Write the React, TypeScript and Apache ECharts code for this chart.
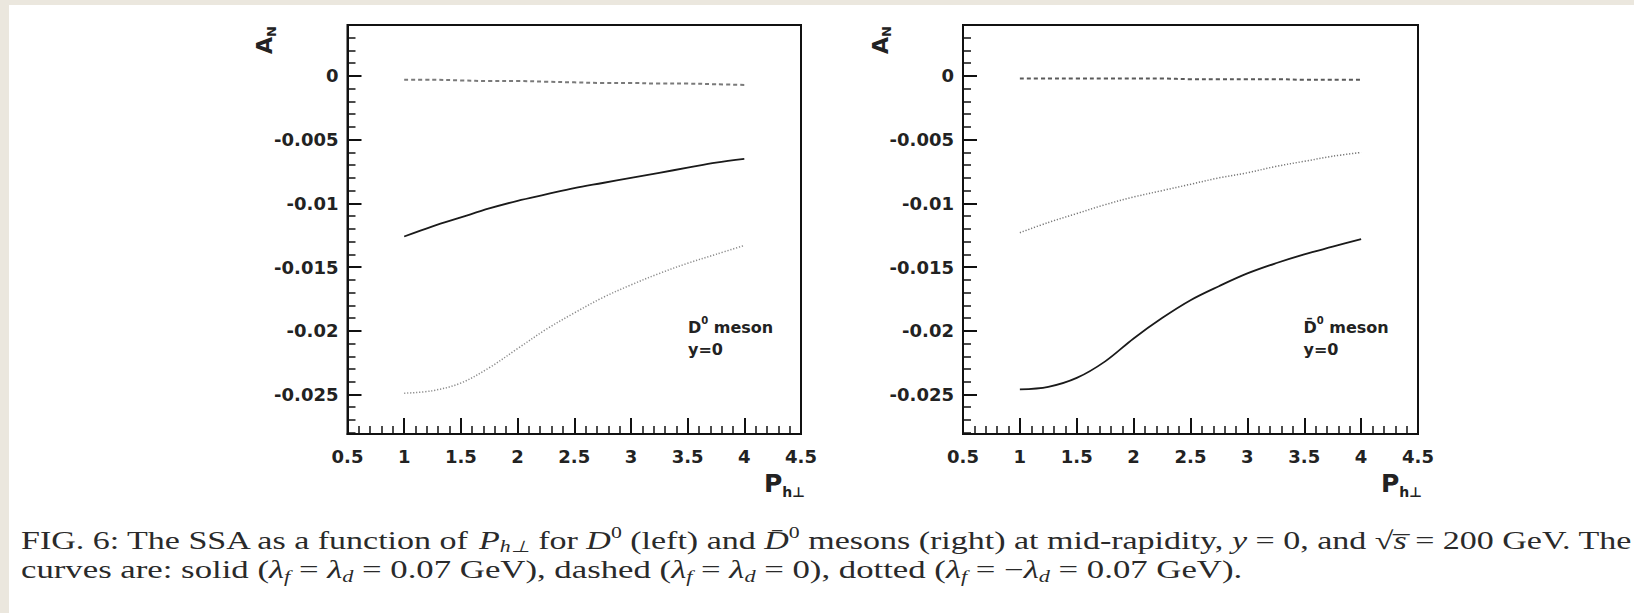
import React, { useEffect, useRef } from 'react';
import * as echarts from 'echarts';

// transverse momentum grid (GeV)
const PT = [1, 1.25, 1.5, 1.75, 2, 2.25, 2.5, 2.75, 3, 3.25, 3.5, 3.75, 4];

// D0 meson (left panel)
const D0_SOLID = [-0.0126, -0.0118, -0.0111, -0.0104, -0.0098, -0.0093, -0.0088, -0.0084, -0.008, -0.0076, -0.0072, -0.0068, -0.0065];
const D0_DASHED = [-0.0003, -0.0003, -0.00035, -0.0004, -0.0004, -0.00045, -0.0005, -0.00055, -0.00055, -0.0006, -0.0006, -0.00065, -0.0007];
const D0_DOTTED = [-0.0249, -0.0247, -0.0241, -0.0229, -0.0214, -0.0199, -0.0186, -0.0174, -0.0164, -0.0155, -0.0147, -0.014, -0.0133];

// anti-D0 meson (right panel)
const D0BAR_SOLID = [-0.0246, -0.0244, -0.0237, -0.0224, -0.0206, -0.019, -0.0176, -0.0165, -0.0155, -0.0147, -0.014, -0.0134, -0.0128];
const D0BAR_DASHED = [-0.0002, -0.0002, -0.0002, -0.0002, -0.0002, -0.0002, -0.00025, -0.00025, -0.00025, -0.00025, -0.0003, -0.0003, -0.0003];
const D0BAR_DOTTED = [-0.0123, -0.0115, -0.0108, -0.0101, -0.0095, -0.009, -0.0085, -0.008, -0.0076, -0.0071, -0.0067, -0.0063, -0.006];

const X_MIN = 0.5;
const X_MAX = 4.5;
const X_STEP = 0.5;
const Y_MIN = -0.0281;
const Y_MAX = 0.004;
const Y_MAJOR = [-0.025, -0.02, -0.015, -0.01, -0.005, 0];
const Y_MINOR = [-0.028, -0.027, -0.026, -0.024, -0.023, -0.022, -0.021, -0.019, -0.018, -0.017, -0.016, -0.014, -0.013, -0.012, -0.011, -0.009, -0.008, -0.007, -0.006, -0.004, -0.003, -0.002, -0.001, 0.001, 0.002, 0.003];

const PANEL_LABELS = ['{b|D}{sup|0}{b| meson}', '{b|D\u0304}{sup|0}{b| meson}'];

const BLACK = '#111';
const SANS = 'DejaVu Sans';
const SERIF = 'Liberation Serif';

function pairs(ys: number[]) {
  return PT.map((x, i) => [x, ys[i]]);
}

export default function App() {
  const ref = useRef<HTMLDivElement>(null);
  useEffect(() => {
    if (!ref.current) return;
    const chart = echarts.init(ref.current, null, { renderer: 'svg' });

    const grids = [
      { left: 347.5, top: 25, width: 453.5, height: 409 },
      { left: 963, top: 25, width: 455, height: 409 },
    ];

    const xAxes = grids.map((_, i) => ({
      gridIndex: i,
      type: 'value',
      position: 'bottom',
      min: X_MIN,
      max: X_MAX,
      interval: X_STEP,
      axisLine: { show: true, onZero: false, lineStyle: { color: BLACK, width: 2 } },
      axisTick: { show: true, inside: true, length: 16, lineStyle: { color: BLACK, width: 2 } },
      minorTick: { show: true, splitNumber: 5, length: 8, lineStyle: { color: BLACK, width: 1.5 } },
      axisLabel: {
        margin: 13,
        fontSize: 18,
        fontWeight: 'bold',
        fontFamily: SANS,
        color: '#222',
        showMinLabel: true,
        showMaxLabel: true,
        formatter: (v: number) => String(v),
      },
      splitLine: { show: false },
      minorSplitLine: { show: false },
    }));

    const yAxes: any[] = [];
    grids.forEach((_, i) => {
      yAxes.push({
        gridIndex: i,
        type: 'value',
        position: 'left',
        offset: 0,
        min: Y_MIN,
        max: Y_MAX,
        axisLine: { show: true, onZero: false, lineStyle: { color: BLACK, width: 2 } },
        axisTick: { show: true, inside: true, length: 14, customValues: Y_MAJOR, lineStyle: { color: BLACK, width: 2 } },
        axisLabel: {
          customValues: Y_MAJOR,
          margin: 9,
          fontSize: 18,
          fontWeight: 'bold',
          fontFamily: SANS,
          color: '#222',
          formatter: (v: number) => String(Number(v.toFixed(3)) === 0 ? 0 : Number(v.toFixed(3))),
        },
        splitLine: { show: false },
      });
      yAxes.push({
        gridIndex: i,
        type: 'value',
        position: 'left',
        offset: 0,
        min: Y_MIN,
        max: Y_MAX,
        axisLine: { show: false, onZero: false },
        axisTick: { show: true, inside: true, length: 8, customValues: Y_MINOR, lineStyle: { color: BLACK, width: 1.5 } },
        axisLabel: { show: false },
        splitLine: { show: false },
      });
    });

    const mk = (name: string, xi: number, data: number[], color: string, width: number, type: any) => ({
      name,
      type: 'line',
      xAxisIndex: xi,
      yAxisIndex: xi * 2,
      data: pairs(data),
      showSymbol: false,
      smooth: 0.35,
      lineStyle: { color, width, type },
      z: 3,
    });

    const series = [
      mk('D0 solid', 0, D0_SOLID, '#1a1a1a', 1.8, 'solid'),
      mk('D0 dashed', 0, D0_DASHED, '#7a7a7a', 2, [4, 3]),
      mk('D0 dotted', 0, D0_DOTTED, '#8a8a8a', 1.5, [1.2, 1.8]),
      mk('D0bar solid', 1, D0BAR_SOLID, '#1a1a1a', 1.8, 'solid'),
      mk('D0bar dashed', 1, D0BAR_DASHED, '#5a5a5a', 2, [4, 3]),
      mk('D0bar dotted', 1, D0BAR_DOTTED, '#777', 1.5, [1.2, 1.8]),
    ];

    const FS = 25;
    const richCaption = {
      t: { fontFamily: SERIF, fontSize: FS, lineHeight: 30, verticalAlign: 'middle', fill: '#2a2a2a' },
      i: { fontFamily: SERIF, fontSize: FS, lineHeight: 30, fontStyle: 'italic', verticalAlign: 'middle', fill: '#2a2a2a' },
      sub: { fontFamily: SERIF, fontSize: 16, lineHeight: 16, fontStyle: 'italic', verticalAlign: 'bottom', fill: '#2a2a2a' },
      sup: { fontFamily: SERIF, fontSize: 16, lineHeight: 21, verticalAlign: 'top', fill: '#2a2a2a' },
    };

    const caption1 =
      '{t|FIG. 6: The SSA as a function of }{i|P}{sub|h\u22a5}{t| for }{i|D}{sup|0}{t| (left) and }{i|D\u0304}{sup|0}{t| mesons (right) at mid-rapidity, }{i|y}{t| = 0, and \u221a}{i|s\u0305}{t| = 200 GeV. The}';
    const caption2 =
      '{t|curves are: solid (}{i|\u03bb}{sub|f}{t| = }{i|\u03bb}{sub|d}{t| = 0.07 GeV), dashed (}{i|\u03bb}{sub|f}{t| = }{i|\u03bb}{sub|d}{t| = 0), dotted (}{i|\u03bb}{sub|f}{t| = \u2212}{i|\u03bb}{sub|d}{t| = 0.07 GeV).}';

    const panelGraphics: any[] = [];
    grids.forEach((g, i) => {
      const right = g.left + g.width;
      panelGraphics.push({
        type: 'text',
        x: g.left + 340.5,
        y: 315,
        style: {
          text: PANEL_LABELS[i],
          rich: {
            b: { fontFamily: SANS, fontSize: 16, fontWeight: 'bold', lineHeight: 20, fill: '#222', verticalAlign: 'bottom' },
            sup: { fontFamily: SANS, fontSize: 10, fontWeight: 'bold', lineHeight: 12, fill: '#222', verticalAlign: 'top' },
          },
        },
      });
      panelGraphics.push({
        type: 'text',
        x: g.left + 340.5,
        y: 341,
        style: { text: 'y=0', fontFamily: SANS, fontSize: 16, fontWeight: 'bold', fill: '#222' },
      });
      panelGraphics.push({
        type: 'text',
        x: g.left - 82,
        y: 40,
        rotation: Math.PI / 2,
        style: {
          text: '{a|A}{s|N}',
          align: 'center',
          verticalAlign: 'middle',
          rich: {
            a: { fontFamily: SANS, fontSize: 22, fontWeight: 'bold', lineHeight: 24, fill: '#222', verticalAlign: 'top' },
            s: { fontFamily: SANS, fontSize: 13, fontWeight: 'bold', lineHeight: 13, fill: '#222', verticalAlign: 'bottom' },
          },
        },
      });
      panelGraphics.push({
        type: 'text',
        x: right - 37,
        y: 471,
        style: {
          text: '{p|P}{s|h\u22a5}',
          rich: {
            p: { fontFamily: SANS, fontSize: 25, fontWeight: 'bold', lineHeight: 28, fill: '#222', verticalAlign: 'top' },
            s: { fontFamily: SANS, fontSize: 14, fontWeight: 'bold', lineHeight: 14, fill: '#222', verticalAlign: 'bottom' },
          },
        },
      });
    });

    chart.setOption({
      animation: false,
      backgroundColor: '#ffffff',
      grid: grids.map((g) => ({ ...g, show: true, borderColor: BLACK, borderWidth: 2, backgroundColor: 'transparent' })),
      xAxis: xAxes,
      yAxis: yAxes,
      series,
      graphic: [
        { type: 'rect', shape: { x: 0, y: 0, width: 1634, height: 5 }, style: { fill: '#ebe7de' }, z: 0 },
        { type: 'rect', shape: { x: 0, y: 0, width: 9, height: 613 }, style: { fill: '#ebe7de' }, z: 0 },
        ...panelGraphics,
        { type: 'text', x: 21, y: 525, scaleX: 1.36, style: { text: caption1, rich: richCaption } },
        { type: 'text', x: 21, y: 555, scaleX: 1.39, style: { text: caption2, rich: richCaption } },
      ],
    });

    return () => chart.dispose();
  }, []);

  return <div ref={ref} style={{ position: 'fixed', left: 0, top: 0, width: 1634, height: 613 }} />;
}
